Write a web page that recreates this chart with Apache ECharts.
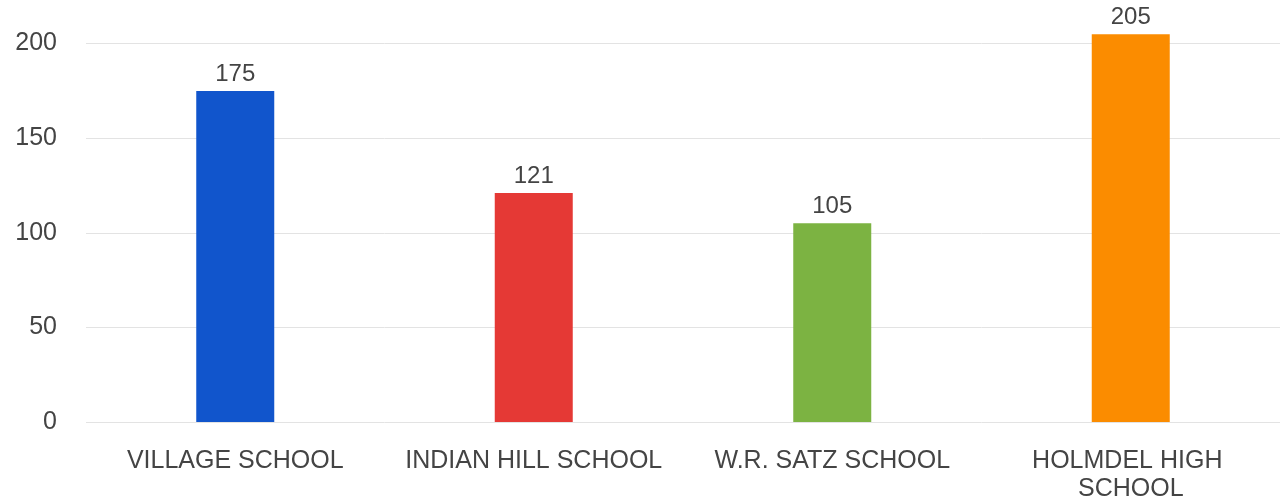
<!DOCTYPE html>
<html><head><meta charset="utf-8">
<script src="https://cdn.jsdelivr.net/npm/echarts@6/dist/echarts.min.js"></script>
<style>html,body{margin:0;padding:0;background:#fff}#c{width:1283px;height:501px}</style>
</head><body><div id="c"></div>
<script>
const categories = ['VILLAGE SCHOOL', 'INDIAN HILL SCHOOL', 'W.R. SATZ SCHOOL', 'HOLMDEL HIGH SCHOOL'];
const values = [175, 121, 105, 205];
const barColors = ['#1155cc', '#e53935', '#7cb342', '#fb8c00'];
const yTicks = [0, 50, 100, 150, 200, 250];

const chart = echarts.init(document.getElementById('c'));
chart.setOption({
  animation: false,
  grid: { left: 86, right: 3, top: -51, bottom: 79, outerBoundsMode: 'none', containLabel: false },
  xAxis: {
    type: 'category', data: categories,
    axisLine: { show: false }, axisTick: { show: false },
    axisLabel: { fontFamily: 'Liberation Sans, Arial', fontSize: 25, color: '#444', margin: 25, width: 280, overflow: 'break', lineHeight: 28, interval: 0 }
  },
  yAxis: {
    type: 'value', min: yTicks[0], max: yTicks[yTicks.length - 1], interval: 50,
    axisLine: { show: false }, axisTick: { show: false },
    splitLine: { lineStyle: { color: '#e3e3e3', width: 1 } },
    axisLabel: { fontFamily: 'Liberation Sans, Arial', fontSize: 25, color: '#444', margin: 29 }
  },
  series: [{
    type: 'bar', barWidth: 78,
    data: values.map((v, i) => ({ value: v, itemStyle: { color: barColors[i] } })),
    label: { show: true, position: 'top', distance: 5, fontFamily: 'Liberation Sans, Arial', fontSize: 24, color: '#444' }
  }]
});
</script></body></html>
